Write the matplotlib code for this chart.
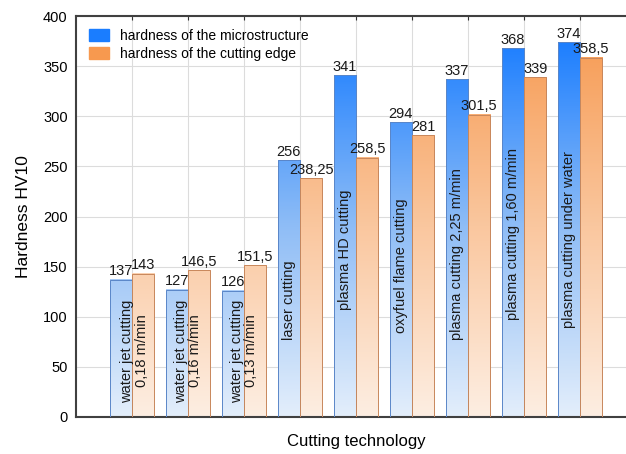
import numpy as np
import matplotlib
matplotlib.use("Agg")
import matplotlib.pyplot as plt
from matplotlib.colors import LinearSegmentedColormap

plt.rcParams["font.family"] = ["Liberation Sans", "DejaVu Sans"]

# data
technologies = ["water jet cutting\n0,18 m/min", "water jet cutting\n0,16 m/min",
                "water jet cutting\n0,13 m/min", "laser cutting", "plasma HD cutting",
                "oxyfuel flame cutting", "plasma cutting 2,25 m/min",
                "plasma cutting 1,60 m/min", "plasma cutting under water"]
micro = [137, 127, 126, 256, 341, 294, 337, 368, 374]
edge = [143, 146.5, 151.5, 238.25, 258.5, 281, 301.5, 339, 358.5]
yticks = [0, 50, 100, 150, 200, 250, 300, 350, 400]

# where the rotated names sit inside the bars
name_dx = [0.04, 0.0, 0.0, -0.2, -0.2, -0.2, -0.2, -0.2, -0.2]
name_y = [66, 66, 66, 77, 107, 84, 77, 97, 89]

blue_cmap = LinearSegmentedColormap.from_list("b", ["#e3eefb", "#8fbdf6", "#1a7dff"])
orange_cmap = LinearSegmentedColormap.from_list("o", ["#fdeee2", "#fac79f", "#f79c55"])


def fmt(v):
    s = ("%g" % v).replace(".", ",")
    return s


fig = plt.figure(figsize=(6.26, 4.54), dpi=100)
ax = fig.add_axes([76 / 626, 37 / 454, 560 / 626, 401 / 454])

x = np.arange(1, len(micro) + 1)
w = 0.4
top = 380.0

for i in range(len(micro)):
    for xc, h, cmap, ec in [(x[i] - w / 2, micro[i], blue_cmap, "#5a86c8"),
                            (x[i] + w / 2, edge[i], orange_cmap, "#c8875c")]:
        grad = np.linspace(0, h, 200).reshape(-1, 1) / top
        ax.imshow(grad, cmap=cmap, vmin=0, vmax=1, origin="lower", aspect="auto",
                  extent=(xc - w / 2, xc + w / 2, 0, h), zorder=2)
        ax.bar(xc, h, width=w, facecolor="none", edgecolor=ec, linewidth=0.7, zorder=3)
        ax.annotate(fmt(h), (xc, h), xytext=(0, 1), textcoords="offset points",
                    ha="center", va="bottom", fontsize=10.5, color="#1a1a1a", zorder=4)
    ax.text(x[i] + name_dx[i], name_y[i], technologies[i], rotation=90,
            ha="center", va="center" if i < 3 else "bottom", multialignment="center",
            fontsize=10.5, linespacing=1.05, color="#1a1a1a", zorder=4)

ax.set_xlim(0, 10)
ax.set_ylim(0, 400)
ax.set_xticks(x)
ax.set_xticklabels([])
ax.set_yticks(yticks)
ax.grid(True, color="#dcdcdc", linewidth=0.8, zorder=0)
ax.set_axisbelow(True)
ax.tick_params(axis="x", direction="in", top=True, length=3, color="#333333")
ax.tick_params(axis="y", length=0, pad=6, labelsize=10.5)
for s in ["left", "top", "bottom"]:
    ax.spines[s].set_color("#404040")
    ax.spines[s].set_linewidth(1.5)
ax.spines["right"].set_visible(False)

ax.set_ylabel("Hardness HV10", fontsize=12.5, labelpad=9)
ax.set_xlabel("Cutting technology", fontsize=12, labelpad=9)

h1 = plt.Rectangle((0, 0), 1, 1, color="#1a7dff")
h2 = plt.Rectangle((0, 0), 1, 1, color="#f7994f")
ax.legend([h1, h2], ["hardness of the microstructure", "hardness of the cutting edge"],
          loc="upper left", frameon=False, fontsize=10, handlelength=1.5,
          handleheight=0.95, labelspacing=0.3, borderaxespad=0.5,
          bbox_to_anchor=(0.0, 1.0))

fig.savefig("out.png", dpi=100)
